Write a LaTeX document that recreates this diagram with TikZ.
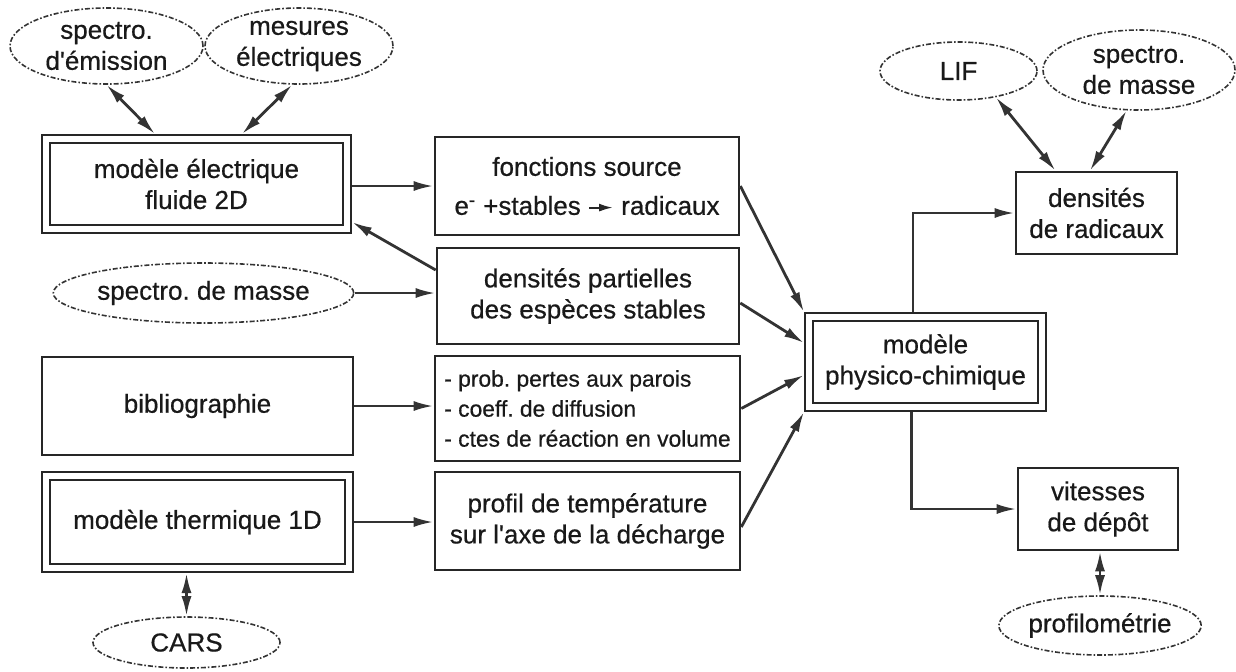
\documentclass[tikz,border=0pt]{standalone}
\usepackage{fontspec}
\setmainfont{Liberation Sans}[FakeBold=0.6]
\usetikzlibrary{shapes.geometric,arrows.meta,calc}
\newcommand\dfont{\fontsize{13}{15.5}\selectfont\frenchspacing}
\newcommand\pfont{\fontsize{11.4}{15}\selectfont\frenchspacing}
\newcommand\inarr{\tikz[baseline=-3.6pt]\draw[line width=1pt,black!85,-{Latex[length=7pt,width=4pt]}] (0pt,0pt) -- (12pt,0pt);}
\begin{document}
\begin{tikzpicture}[x=0.5pt,y=-0.5pt,
  >={Latex[length=10pt,width=5pt]},
  box/.style={rectangle, draw=black!85, line width=1.3pt, inner sep=2pt, align=center, font=\dfont, text=black!90},
  dbox/.style={rectangle, draw=black!85, line width=1.1pt, double, double distance=2.8pt, outer sep=2.5pt, inner sep=2pt, align=center, font=\dfont, text=black!90},
  oval/.style={ellipse, draw=black!80, line width=0.8pt, dash pattern=on 2.5pt off 1pt on 0.8pt off 1pt, inner sep=0pt, align=center, font=\dfont, text=black!90},
  conn/.style={draw=black!80, line width=1.4pt},
]
\useasboundingbox (0,0) rectangle (1236,671);

% left column
\node[oval, minimum width=96.5pt, minimum height=38pt] (emis) at (106.5,46) {spectro.\\d\textquotesingle émission};
\node[oval, minimum width=94pt, minimum height=38pt] (meas) at (299,46) {mesures\\électriques};
\node[dbox, minimum width=150.5pt, minimum height=45pt] (elec) at (196.5,184) {modèle électrique\\fluide 2D};
\node[oval, minimum width=146.5pt, minimum height=30pt] (masseL) at (203.5,293) {spectro. de masse};
\node[box, minimum width=155.5pt, minimum height=49pt] (biblio) at (197.5,406) {bibliographie};
\node[dbox, minimum width=151.5pt, minimum height=46pt] (therm) at (197.5,522) {modèle thermique 1D};
\node[oval, minimum width=93.5pt, minimum height=25.5pt] (cars) at (186.5,642.5) {CARS};

% middle column
\node[box, minimum width=152pt, minimum height=49pt] (src) at (587,186) {fonctions source\\[4pt]e\textsuperscript{-} +stables \inarr\ radicaux};
\node[box, minimum width=151pt, minimum height=48pt] (dens) at (588,296) {densités partielles\\des espèces stables};
\node[box, minimum width=152.5pt, minimum height=52.5pt, align=left, font=\pfont] (prob) at (587.5,408.5) {- prob. pertes aux parois\\- coeff. de diffusion\\- ctes de réaction en volume};
\node[box, minimum width=152.5pt, minimum height=49pt] (profil) at (587.5,521) {profil de température\\sur l\textquotesingle axe de la décharge};

% right column
\node[dbox, minimum width=116.5pt, minimum height=45pt] (phys) at (925.5,362) {modèle\\physico-chimique};
\node[box, minimum width=80.5pt, minimum height=41pt] (rad) at (1096.5,213) {densités\\de radicaux};
\node[box, minimum width=80pt, minimum height=41pt] (vit) at (1098,509) {vitesses\\de dépôt};
\node[oval, minimum width=78.5pt, minimum height=29pt] (lif) at (958.5,71) {LIF};
\node[oval, minimum width=96pt, minimum height=40pt] (masseR) at (1139,70) {spectro.\\de masse};
\node[oval, minimum width=91pt, minimum height=29.5pt] (profilo) at (1100,625.5) {profilométrie};

% connectors
\draw[conn,<->] (emis.south) -- ([xshift=-20.75pt]elec.north);
\draw[conn,<->] (meas.-100) -- ([xshift=22.75pt]elec.north);
\draw[conn,->] (elec.east |- src.west) -- (src.west);
\draw[conn,->] ([yshift=13pt]dens.west) -- ([yshift=-19pt]elec.east);
\draw[conn,->] (masseL.east) -- (masseL.east -| dens.west);
\draw[conn,->] (biblio.east) -- (biblio.east -| prob.west);
\draw[conn,->] (therm.east) -- (therm.east -| profil.west);
\draw[conn,<->] (cars.north) -- (cars.north |- therm.south);

\draw[conn,->] (src.east) -- (phys.north west);
\draw[conn,->] ([yshift=-3.5pt]dens.east) -- ([yshift=9.5pt]phys.west);
\draw[conn,->] (prob.east) -- ([yshift=-6.5pt]phys.west);
\draw[conn,->] ([yshift=-3pt]profil.east) -- (phys.south west);

\draw[conn,->] ([xshift=-6.25pt]phys.north) |- (rad.west);
\draw[conn,->] ([xshift=-7pt]phys.south) |- (vit.west);
\draw[conn,<->] (lif.-35) -- ([xshift=-20.5pt]rad.north);
\draw[conn,<->] (masseR.-107) -- ([xshift=-3.25pt]rad.north);
\draw[conn,<->] (profilo.north) -- (profilo.north |- vit.south);
\end{tikzpicture}
\end{document}
